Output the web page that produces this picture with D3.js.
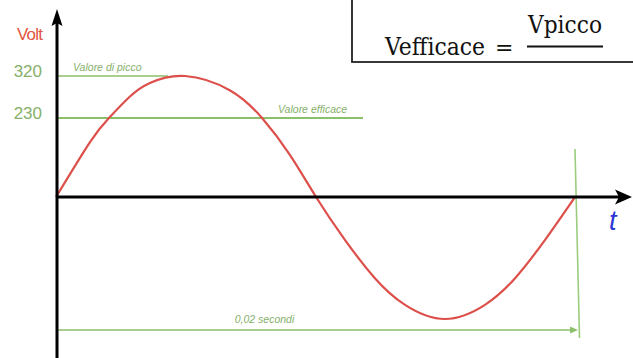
<!DOCTYPE html>
<html>
<head>
<meta charset="utf-8">
<script src="https://cdn.jsdelivr.net/npm/d3@7"></script>
<style>
  body { margin: 0; background: #fff; }
  svg { display: block; }
</style>
</head>
<body>
<div id="display"></div>
<script>
// wave: time in ms, tension in volt
var times = [0, 1.31, 2.04, 2.85, 3.62, 4.97, 6.71, 7.94, 9.02, 10.02,
             11.14, 12.29, 13.45, 14.99, 16.53, 17.69, 18.84, 20];
var volts = [0, 160, 230, 276, 305, 320, 289, 230, 122, 0,
             -113, -213, -283, -320, -283, -213, -113, 0];
var tickValues = [320, 230];
var peakValue = 320;
var rmsValue = 230;
var period = 20; // ms

var width = 633, height = 358;
var red = "#dc4f4a", green = "#8cbf6a", greenText = "#86b06a";

var svg = d3.select("#display").append("svg")
    .attr("width", width)
    .attr("height", height);

// time scale
var x = d3.scaleLinear()
    .domain([0, period])
    .range([56, 575]);

// the drawing is not linear on the vertical, so a polylinear scale
var y = d3.scaleLinear()
    .domain([-320, 0, 230, 320])
    .range([319, 197, 118, 76]);

var data = times.map(function (t, i) { return { t: t, v: volts[i] }; });

// guide lines
svg.append("line")
    .attr("x1", x(0)).attr("x2", 168)
    .attr("y1", y(peakValue)).attr("y2", y(peakValue))
    .attr("stroke", green).attr("stroke-width", 1.6);

svg.append("line")
    .attr("x1", x(0)).attr("x2", 363)
    .attr("y1", y(rmsValue)).attr("y2", y(rmsValue))
    .attr("stroke", green).attr("stroke-width", 2);

svg.append("text")
    .attr("x", 73).attr("y", y(peakValue) - 5)
    .attr("fill", greenText)
    .style("font", "italic 10.5px 'Liberation Sans', Arial, sans-serif")
    .text("Valore di picco");

svg.append("text")
    .attr("x", 278).attr("y", y(rmsValue) - 5)
    .attr("fill", greenText)
    .style("font", "italic 10.5px 'Liberation Sans', Arial, sans-serif")
    .text("Valore efficace");

// period marker
svg.append("line")
    .attr("x1", x(period)).attr("x2", x(period) + 4.5)
    .attr("y1", 149).attr("y2", 338)
    .attr("stroke", "#9ccd7e").attr("stroke-width", 1.6);

svg.append("line")
    .attr("x1", x(0)).attr("x2", x(period) - 3)
    .attr("y1", 330).attr("y2", 330)
    .attr("stroke", green).attr("stroke-width", 1.6);

svg.append("path")
    .attr("d", d3.line()([[x(period) + 3, 330], [x(period) - 5, 326.5], [x(period) - 5, 333.5]]) + "Z")
    .attr("fill", green);

svg.append("text")
    .attr("x", (x(0) + x(period)) / 2 - 51).attr("y", 323)
    .attr("text-anchor", "middle")
    .attr("fill", greenText)
    .style("font", "italic 10.5px 'Liberation Sans', Arial, sans-serif")
    .text("0,02 secondi");

// sine wave
svg.append("path")
    .datum(data)
    .attr("fill", "none")
    .attr("stroke", red)
    .attr("stroke-width", 2.2)
    .attr("d", d3.line()
        .x(function (d) { return x(d.t); })
        .y(function (d) { return y(d.v); })
        .curve(d3.curveNatural));

// axes
svg.append("line")
    .attr("x1", 57).attr("x2", 57)
    .attr("y1", height).attr("y2", 20)
    .attr("stroke", "#000").attr("stroke-width", 3);
svg.append("path")
    .attr("d", "M57,9 L51.5,26 L57,23 L62.5,26 Z")
    .attr("fill", "#000");

svg.append("line")
    .attr("x1", 56).attr("x2", 622)
    .attr("y1", y(0)).attr("y2", y(0))
    .attr("stroke", "#000").attr("stroke-width", 3);
svg.append("path")
    .attr("d", "M632," + y(0) + " L615," + (y(0) - 7.5) + " L619," + y(0) + " L615," + (y(0) + 7.5) + " Z")
    .attr("fill", "#000");

var yAxis = svg.append("g")
    .attr("transform", "translate(56,0)")
    .call(d3.axisLeft(y).tickValues(tickValues).tickSize(0).tickPadding(14));
yAxis.select(".domain").remove();
yAxis.selectAll("text")
    .attr("dy", "0.05em")
    .attr("fill", greenText)
    .style("font", "17px 'Liberation Sans', Arial, sans-serif");

svg.append("text")
    .attr("x", 17).attr("y", 40)
    .attr("fill", "#e2563f")
    .style("font", "500 17px 'Liberation Sans', Arial, sans-serif")
    .style("letter-spacing", "-0.8px")
    .text("Volt");

svg.append("text")
    .attr("x", 609).attr("y", 230)
    .attr("fill", "#2c35d6")
    .style("font", "italic 27px 'Liberation Sans', Arial, sans-serif")
    .text("t");

// formula box
svg.append("rect")
    .attr("x", 352).attr("y", -5)
    .attr("width", 300).attr("height", 67)
    .attr("fill", "#fff")
    .attr("stroke", "#222").attr("stroke-width", 1.8);

svg.append("text")
    .attr("x", 385).attr("y", 55)
    .attr("fill", "#111")
    .style("font", "24px 'DejaVu Serif', serif")
    .attr("textLength", 100)
    .attr("lengthAdjust", "spacingAndGlyphs")
    .text("Vefficace");

svg.append("text")
    .attr("x", 495).attr("y", 55)
    .attr("fill", "#111")
    .style("font", "22px 'DejaVu Serif', serif")
    .text("=");

svg.append("text")
    .attr("x", 528).attr("y", 33)
    .attr("fill", "#111")
    .style("font", "24px 'DejaVu Serif', serif")
    .attr("textLength", 74)
    .attr("lengthAdjust", "spacingAndGlyphs")
    .text("Vpicco");

svg.append("line")
    .attr("x1", 527).attr("x2", 603)
    .attr("y1", 46.5).attr("y2", 46.5)
    .attr("stroke", "#111").attr("stroke-width", 2);
</script>
</body>
</html>
